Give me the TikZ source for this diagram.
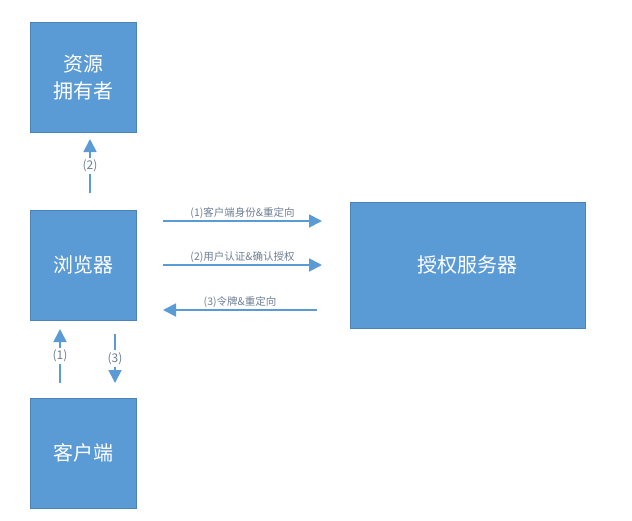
\documentclass[tikz,border=0pt]{standalone}
\usepackage{fontspec}
\newfontfamily\cjk{Noto Sans CJK SC}
\usetikzlibrary{arrows.meta}
\definecolor{boxblue}{HTML}{5B9BD5}
\definecolor{lbl}{HTML}{6F7F95}
\tikzset{
  box/.style={fill=boxblue, draw=boxblue!85!black, line width=0.4pt, text=white, font=\cjk\fontsize{20}{27}\selectfont, align=center, inner sep=0},
  flow/.style={draw=boxblue, line width=1.8pt, -{Triangle[length=13pt,width=13pt]}},
  lab/.style={font=\cjk\fontsize{10.5}{12}\selectfont, text=lbl, inner sep=1pt},
  vlab/.style={font=\cjk\fontsize{12}{13}\selectfont, text=lbl, fill=white, inner sep=2pt}
}
\begin{document}
\begin{tikzpicture}[x=1pt,y=-1pt]
\useasboundingbox[fill=white] (0,0) rectangle (632,520);
\node[box, minimum width=106pt, minimum height=110pt] (owner) at (83,77) {资源\\拥有者};
\node[box, minimum width=106pt, minimum height=110pt] (browser) at (83,265) {浏览器};
\node[box, minimum width=106pt, minimum height=110pt] (client) at (83,453) {客户端};
\node[box, minimum width=235pt, minimum height=126pt] (auth) at (467.5,265) {授权服务器};

\coordinate (a1) at (90,193); \coordinate (a2) at (90,139);
\draw[flow] (a1) -- node[vlab]{(2)} (a2);
\coordinate (b1) at (60,383); \coordinate (b2) at (60,329);
\draw[flow] (b1) -- node[vlab]{(1)} (b2);
\coordinate (c1) at (115,334); \coordinate (c2) at (115,383);
\draw[flow] (c1) -- node[vlab]{(3)} (c2);

\coordinate (h1s) at (163,221); \coordinate (h1e) at (322,221);
\draw[flow] (h1s) -- node[lab, above=1pt]{(1)客户端身份\&重定向} (h1e);
\coordinate (h2s) at (163,265); \coordinate (h2e) at (322,265);
\draw[flow] (h2s) -- node[lab, above=1pt]{(2)用户认证\&确认授权} (h2e);
\coordinate (h3s) at (317,310); \coordinate (h3e) at (163,310);
\draw[flow] (h3s) -- node[lab, above=1pt]{(3)令牌\&重定向} (h3e);
\end{tikzpicture}
\end{document}
